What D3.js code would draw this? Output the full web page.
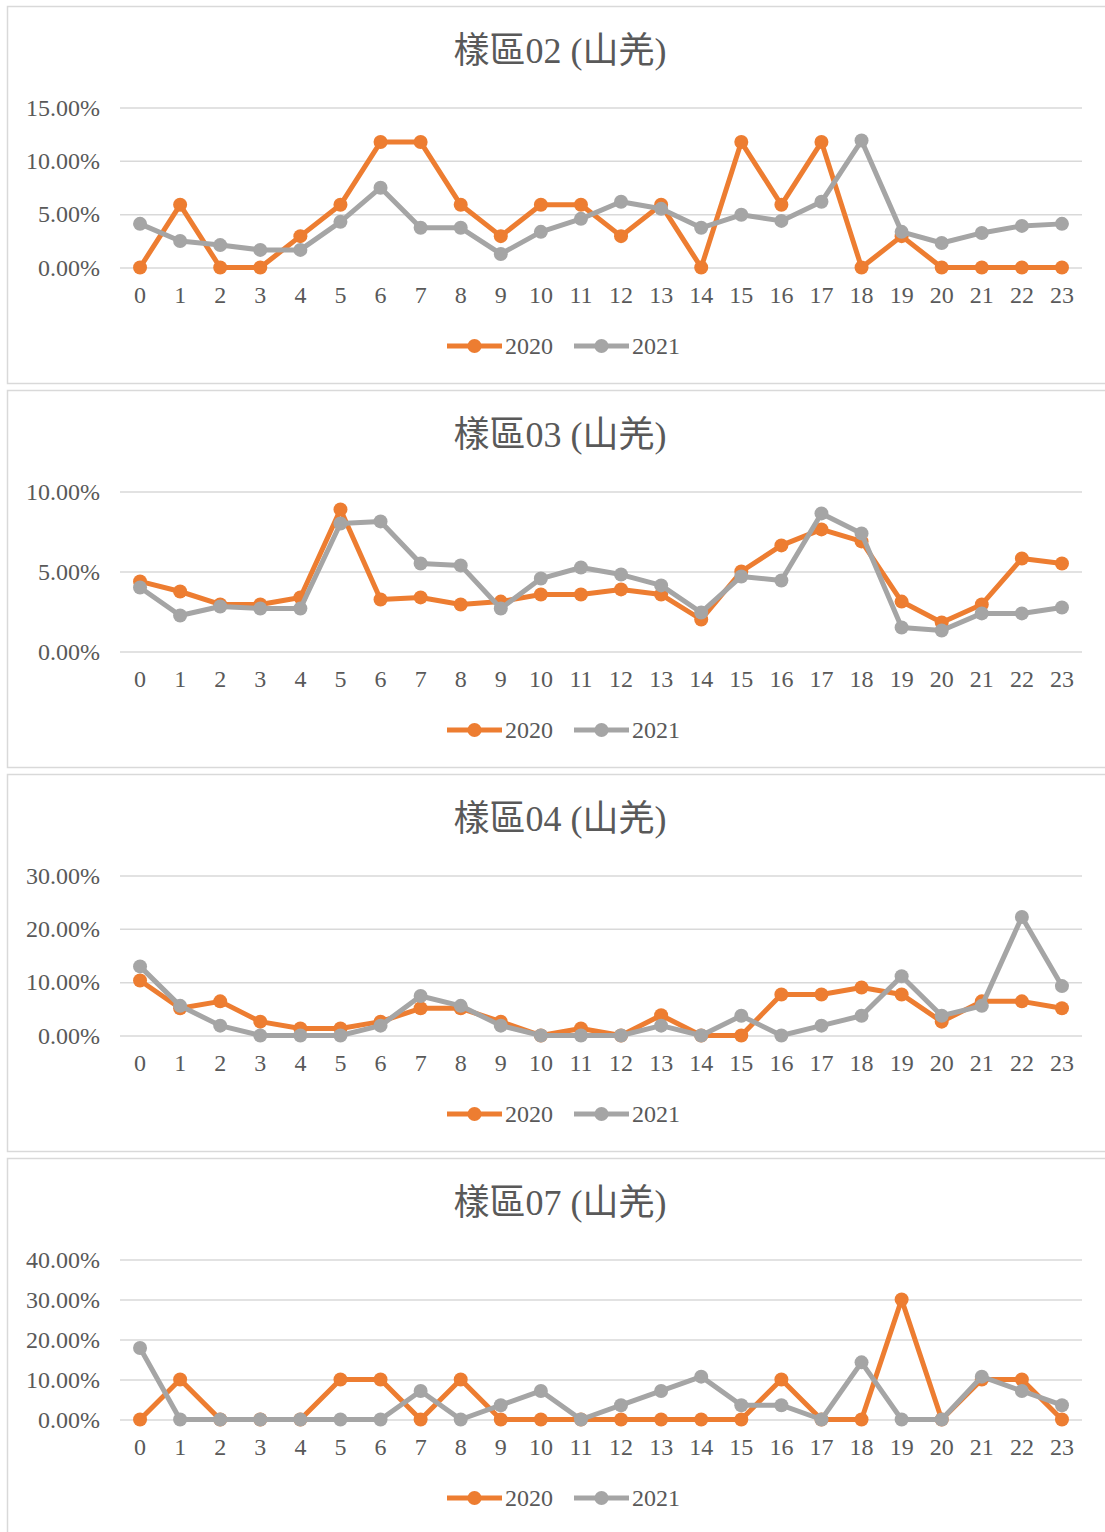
<!DOCTYPE html>
<html>
<head>
<meta charset="utf-8">
<script src="https://cdn.jsdelivr.net/npm/d3@7"></script>
<style>
  body { margin: 0; background: #fff; }
  svg { display: block; font-family: "Liberation Serif", "Times New Roman", "Noto Sans CJK TC", serif; }
</style>
</head>
<body>
<svg id="chart" width="1105" height="1532"></svg>
<script>
const hours = ["0","1","2","3","4","5","6","7","8","9","10","11","12","13","14","15","16","17","18","19","20","21","22","23"];
const seriesNames = ["2020", "2021"];
const titles = ["樣區02 (山羌)", "樣區03 (山羌)", "樣區04 (山羌)", "樣區07 (山羌)"];

// values in percent
const area02_2020 = [0, 5.88, 0, 0, 2.94, 5.88, 11.76, 11.76, 5.88, 2.94, 5.88, 5.88, 2.94, 5.88, 0, 11.76, 5.88, 11.76, 0, 2.94, 0, 0, 0, 0];
const area02_2021 = [4.09, 2.49, 2.1, 1.65, 1.65, 4.28, 7.48, 3.72, 3.72, 1.27, 3.34, 4.56, 6.16, 5.5, 3.72, 4.94, 4.37, 6.16, 11.9, 3.34, 2.3, 3.24, 3.9, 4.09];
const area03_2020 = [4.38, 3.75, 2.94, 2.94, 3.38, 8.88, 3.25, 3.38, 2.94, 3.12, 3.56, 3.56, 3.88, 3.56, 2.0, 5.0, 6.63, 7.63, 6.88, 3.12, 1.81, 2.94, 5.81, 5.5];
const area03_2021 = [4.0, 2.25, 2.81, 2.69, 2.69, 8.0, 8.13, 5.5, 5.38, 2.69, 4.56, 5.25, 4.81, 4.13, 2.44, 4.69, 4.44, 8.63, 7.38, 1.5, 1.31, 2.38, 2.38, 2.75];
const area04_2020 = [10.3, 5.1, 6.4, 2.6, 1.3, 1.3, 2.6, 5.1, 5.1, 2.6, 0, 1.3, 0, 3.8, 0, 0, 7.7, 7.7, 9.0, 7.7, 2.6, 6.4, 6.4, 5.1];
const area04_2021 = [12.96, 5.56, 1.85, 0, 0, 0, 1.85, 7.41, 5.56, 1.85, 0, 0, 0, 1.85, 0, 3.7, 0, 1.85, 3.7, 11.11, 3.7, 5.56, 22.22, 9.26];
const area07_2020 = [0, 10, 0, 0, 0, 10, 10, 0, 10, 0, 0, 0, 0, 0, 0, 0, 10, 0, 0, 30, 0, 10, 10, 0];
const area07_2021 = [17.86, 0, 0, 0, 0, 0, 0, 7.14, 0, 3.57, 7.14, 0, 3.57, 7.14, 10.71, 3.57, 3.57, 0, 14.29, 0, 0, 10.71, 7.14, 3.57];

const yTicks02 = [0, 5, 10, 15];
const yTicks03 = [0, 5, 10];
const yTicks04 = [0, 10, 20, 30];
const yTicks07 = [0, 10, 20, 30, 40];

const panels = [
    {title: titles[0], series: [area02_2020, area02_2021], ticks: yTicks02},
    {title: titles[1], series: [area03_2020, area03_2021], ticks: yTicks03},
    {title: titles[2], series: [area04_2020, area04_2021], ticks: yTicks04},
    {title: titles[3], series: [area07_2020, area07_2021], ticks: yTicks07}
];

const colors = ["#ED7D31", "#A5A5A5"];
const textColor = "#595959";
const gridColor = "#d9d9d9";
const panelStep = 384;
const fontSize = 24;
const lineW = 5, dotR = 7;

const svg = d3.select("#chart");

const x = d3.scaleBand().domain(hours).range([120, 1082]);
const cx = d => x(d) + x.bandwidth() / 2;
const fmt = d3.format(".2f");

panels.forEach((p, i) => {
    const g = svg.append("g").attr("transform", "translate(0," + (i * panelStep) + ")");

    // frame
    g.append("rect")
        .attr("x", 7.5).attr("y", 6.5)
        .attr("width", 1110).attr("height", 377)
        .attr("fill", "#fff")
        .attr("stroke", gridColor)
        .attr("stroke-width", 1.5);

    g.append("text")
        .attr("x", 560).attr("y", 63)
        .attr("text-anchor", "middle")
        .attr("font-size", 36)
        .attr("fill", textColor)
        .text(p.title);

    const y = d3.scaleLinear()
        .domain([0, d3.max(p.ticks)])
        .range([267.5, 107.5]);

    // y axis + gridlines
    const ya = g.append("g")
        .attr("transform", "translate(120,0)")
        .call(d3.axisLeft(y).tickValues(p.ticks).tickSize(-962).tickPadding(20)
            .tickFormat(d => fmt(d) + "%"))
        .attr("font-family", null)
        .attr("font-size", fontSize);
    ya.select(".domain").remove();
    ya.selectAll("line").attr("stroke", gridColor).attr("stroke-width", 1.5);
    ya.selectAll("text").attr("fill", textColor);

    // x axis
    const xa = g.append("g")
        .attr("transform", "translate(0,267.5)")
        .call(d3.axisBottom(x).tickSize(0).tickPadding(18))
        .attr("font-family", null)
        .attr("font-size", fontSize);
    xa.select(".domain").remove();
    xa.selectAll("text").attr("fill", textColor);

    const line = d3.line()
        .x((d, j) => cx(hours[j]))
        .y(d => y(d));

    p.series.forEach((vals, s) => {
        g.append("path")
            .datum(vals)
            .attr("fill", "none")
            .attr("stroke", colors[s])
            .attr("stroke-width", lineW)
            .attr("stroke-linejoin", "round")
            .attr("d", line);

        g.selectAll(".dot" + s)
            .data(vals)
            .enter().append("circle")
            .attr("class", "dot" + s)
            .attr("cx", (d, j) => cx(hours[j]))
            .attr("cy", d => y(d))
            .attr("r", dotR)
            .attr("fill", colors[s]);
    });

    // legend
    const legX = [447, 574];
    seriesNames.forEach((name, s) => {
        const lg = g.append("g").attr("transform", "translate(" + legX[s] + ",346)");
        lg.append("line")
            .attr("x1", 0).attr("x2", 55)
            .attr("stroke", colors[s]).attr("stroke-width", lineW);
        lg.append("circle")
            .attr("cx", 27.5).attr("r", dotR)
            .attr("fill", colors[s]);
        lg.append("text")
            .attr("x", 58).attr("y", 8)
            .attr("font-size", fontSize)
            .attr("fill", textColor)
            .text(name);
    });
});
</script>
</body>
</html>
